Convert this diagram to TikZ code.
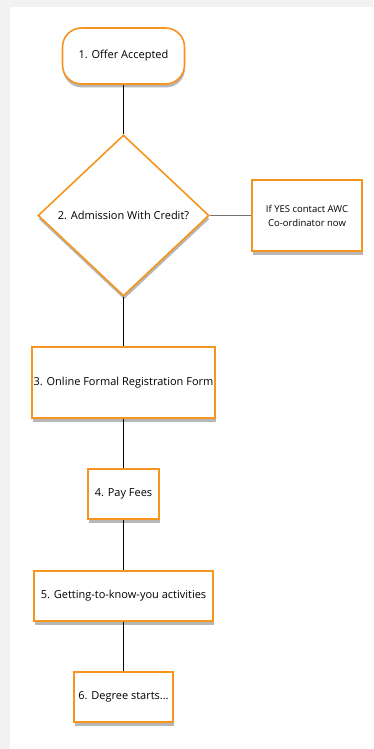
\documentclass[tikz,border=0pt]{standalone}
\usepackage{fontspec}
\setmainfont{Open Sans}
\usepackage{tikz}
\usetikzlibrary{shapes.geometric}
\usetikzlibrary{shadows}
\definecolor{boxorange}{RGB}{247,148,30}
\definecolor{pagegray}{RGB}{242,242,242}
\tikzset{
  stepshadow/.style={drop shadow={fill=black!70,opacity=0.4,shadow xshift=0.5pt,shadow yshift=-3.5pt}},
  stepbox/.style={draw=boxorange,line width=1.6pt,fill=white,stepshadow,align=center,inner sep=0pt,font=\fontsize{11}{13}\selectfont},
  stepround/.style={stepbox,rounded corners=19pt},
  stepchoice/.style={stepbox,diamond},
  link/.style={draw=black,line width=0.7pt},
  sidelink/.style={draw=black!55,line width=1.2pt}
}

\begin{document}
\begin{tikzpicture}[x=1pt,y=-1pt]
        % page
        \fill[pagegray] (0,0) rectangle (373,749);
        \fill[white] (10,7) rectangle (373,749);
        \useasboundingbox (0,0) rectangle (373,749);

        % steps
        \node[stepround,minimum width=122pt,minimum height=56pt] (offer) at (123.5,56) {1. Offer Accepted};
        \node[stepchoice,minimum width=171pt,minimum height=161pt] (admit) at (123.5,215.5) {2. Admission With Credit?};
        \node[stepbox,minimum width=110pt,minimum height=71pt,font=\fontsize{9.5}{14}\selectfont] (awc) at (307,215.5) {If YES contact AWC\\Co-ordinator now};
        \node[stepbox,minimum width=183pt,minimum height=71pt] (form) at (123.5,382.5) {3. Online Formal Registration Form};
        \node[stepbox,minimum width=71pt,minimum height=50pt] (fees) at (123.5,494) {4. Pay Fees};
        \node[stepbox,minimum width=179pt,minimum height=50pt] (activ) at (123.5,596) {5. Getting-to-know-you activities};
        \node[stepbox,minimum width=99pt,minimum height=50pt] (start) at (123.5,697) {6. Degree starts...};

        % links
        \path[link] (offer) -- (admit);
        \path[link] (admit) -- (form);
        \path[link] (form) -- (fees);
        \path[link] (fees) -- (activ);
        \path[link] (activ) -- (start);
        \path[sidelink] (admit.east) -- (awc.west);

    \end{tikzpicture}
\end{document}
